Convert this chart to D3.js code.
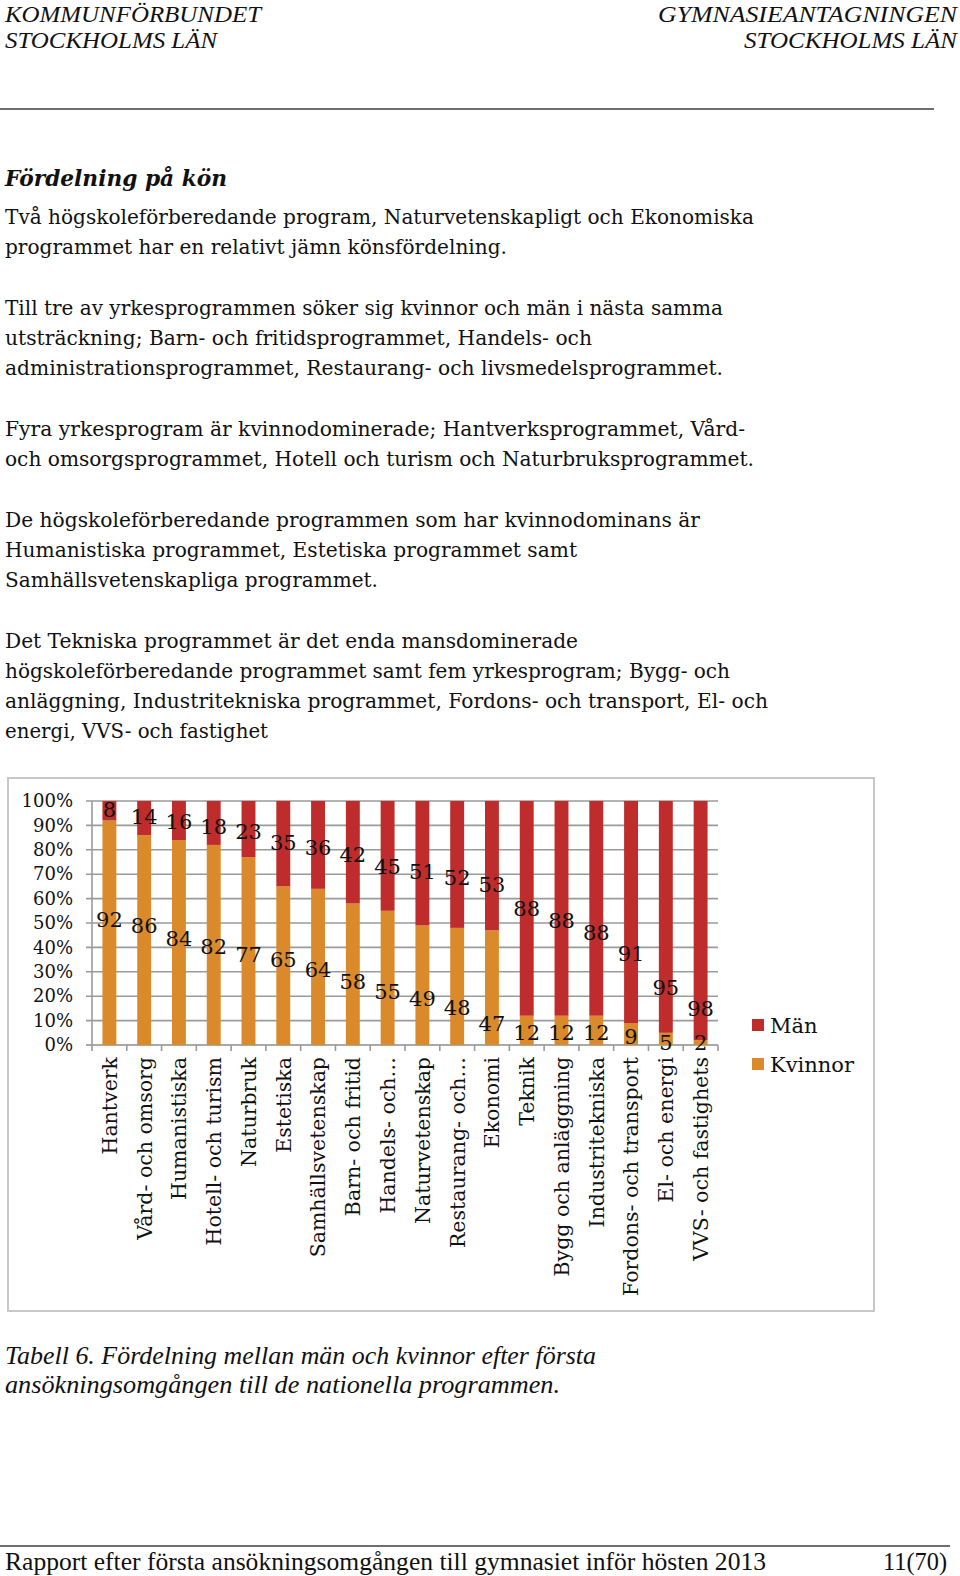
<!DOCTYPE html>
<html>
<head>
<meta charset="utf-8">
<script src="https://cdn.jsdelivr.net/npm/d3@7"></script>
<style>
  html, body { margin: 0; padding: 0; background: #fff; }
  svg { display: block; }
</style>
</head>
<body>
<svg id="page" width="960" height="1576"></svg>
<script>
// ---------------- DATA ----------------
const categories = ["Hantverk", "Vård- och omsorg", "Humanistiska", "Hotell- och turism", "Naturbruk",
  "Estetiska", "Samhällsvetenskap", "Barn- och fritid", "Handels- och…", "Naturvetenskap",
  "Restaurang- och…", "Ekonomi", "Teknik", "Bygg och anläggning", "Industritekniska",
  "Fordons- och transport", "El- och energi", "VVS- och fastighets"];
const kvinnor = [92, 86, 84, 82, 77, 65, 64, 58, 55, 49, 48, 47, 12, 12, 12, 9, 5, 2];
const man     = [8, 14, 16, 18, 23, 35, 36, 42, 45, 51, 52, 53, 88, 88, 88, 91, 95, 98];
// label anchor positions (in % of the axis), as placed in the original chart
const kvinnorLabelAt = [51.5, 49, 43.5, 40.5, 37, 35, 31, 26, 22, 19, 15.5, 9, 5, 5, 5, 3.5, 1, 1];
const manLabelAt     = [96.5, 93.5, 91.5, 89.5, 87.5, 83, 81, 78, 73, 71, 68.5, 66, 56, 51, 46, 37.5, 23.5, 15];
const yTicks = [0, 10, 20, 30, 40, 50, 60, 70, 80, 90, 100];
const seriesNames = ["Män", "Kvinnor"];

const headerLeft = ["KOMMUNFÖRBUNDET", "STOCKHOLMS LÄN"];
const headerRight = ["GYMNASIEANTAGNINGEN", "STOCKHOLMS LÄN"];
const title = "Fördelning på kön";
const bodyLines = [
  "Två högskoleförberedande program, Naturvetenskapligt och Ekonomiska",
  "programmet har en relativt jämn könsfördelning.",
  "Till tre av yrkesprogrammen söker sig kvinnor och män i nästa samma",
  "utsträckning; Barn- och fritidsprogrammet, Handels- och",
  "administrationsprogrammet, Restaurang- och livsmedelsprogrammet.",
  "Fyra yrkesprogram är kvinnodominerade; Hantverksprogrammet, Vård-",
  "och omsorgsprogrammet, Hotell och turism och Naturbruksprogrammet.",
  "De högskoleförberedande programmen som har kvinnodominans är",
  "Humanistiska programmet, Estetiska programmet samt",
  "Samhällsvetenskapliga programmet.",
  "Det Tekniska programmet är det enda mansdominerade",
  "högskoleförberedande programmet samt fem yrkesprogram; Bygg- och",
  "anläggning, Industritekniska programmet, Fordons- och transport, El- och",
  "energi, VVS- och fastighet"
];
const captionLines = ["Tabell 6. Fördelning mellan män och kvinnor efter första",
  "ansökningsomgången till de nationella programmen."];
const footerText = "Rapport efter första ansökningsomgången till gymnasiet inför hösten 2013";
const pageNo = "11(70)";

// ---------------- LAYOUT ----------------
const svg = d3.select("#page");
const SERIF = "'DejaVu Serif', serif";
const TIMES = "'Liberation Serif', serif";

function fit(sel, w) {
  sel.each(function () {
    const L = this.getComputedTextLength();
    if (Math.abs(L - w) > 1) {
      d3.select(this).attr("textLength", w).attr("lengthAdjust", "spacingAndGlyphs");
    }
  });
}

// header
const hl = svg.append("g").attr("font-family", TIMES).attr("font-style", "italic")
  .attr("font-size", 24).attr("fill", "#111");
const hlW = [256, 212], hrW = [299, 213], hY = [22, 48];
headerLeft.forEach((t, i) => fit(hl.append("text").attr("x", 5).attr("y", hY[i]).text(t), hlW[i]));
headerRight.forEach((t, i) => fit(hl.append("text").attr("x", 957).attr("y", hY[i])
  .attr("text-anchor", "end").text(t), hrW[i]));
svg.append("line").attr("x1", 0).attr("x2", 934).attr("y1", 109).attr("y2", 109)
  .attr("stroke", "#6e6e6e").attr("stroke-width", 2);

// title
fit(svg.append("text").attr("x", 5).attr("y", 186).attr("font-family", SERIF)
  .attr("font-weight", "bold").attr("font-style", "italic").attr("font-size", 22.5)
  .attr("fill", "#111").text(title), 222);

// body text
const bodyY = [224, 254, 315, 345, 375, 436, 466, 527, 557, 587, 648, 678, 708, 738];
const bodyW = [749, 502, 718, 587, 718, 740, 749, 695, 572, 373, 573, 725, 763, 263];
const body = svg.append("g").attr("font-family", SERIF).attr("font-size", 21).attr("fill", "#111");
bodyLines.forEach((t, i) => fit(body.append("text").attr("x", 5).attr("y", bodyY[i]).text(t), bodyW[i]));

// ---------------- CHART ----------------
// frame
svg.append("rect").attr("x", 8).attr("y", 778).attr("width", 866).attr("height", 533)
  .attr("fill", "#fff").attr("stroke", "#c8c8c8").attr("stroke-width", 2);

const plotL = 92, plotR = 718, plotT = 801, plotB = 1045;
const x = d3.scaleBand().domain(categories).range([plotL, plotR]).paddingInner(0.6).paddingOuter(0.3);
const xb = d3.scaleBand().domain(categories).range([plotL, plotR]);
const y = d3.scaleLinear().domain([0, 100]).range([plotB, plotT]);

const chart = svg.append("g");
// gridlines
chart.append("g").selectAll("line").data(yTicks).join("line")
  .attr("x1", plotL - 6).attr("x2", plotR).attr("y1", d => y(d)).attr("y2", d => y(d))
  .attr("stroke", d => d === 0 ? "#8c8c8c" : "#9a9a9a").attr("stroke-width", 1.6);
// y axis line
chart.append("line").attr("x1", plotL).attr("x2", plotL).attr("y1", plotT).attr("y2", plotB)
  .attr("stroke", "#9a9a9a").attr("stroke-width", 1.6);
// x ticks at band boundaries
const boundaries = categories.map(c => xb(c)).concat([plotR]);
chart.append("g").selectAll("line").data(boundaries).join("line")
  .attr("x1", d => d).attr("x2", d => d).attr("y1", plotB).attr("y2", plotB + 6)
  .attr("stroke", "#9a9a9a").attr("stroke-width", 1.6);

// y tick labels
const yAxis = d3.axisLeft(y).tickValues(yTicks).tickFormat(d => d + "%").tickSize(0).tickPadding(0);
const ya = chart.append("g").attr("transform", `translate(73,0)`).call(yAxis);
ya.select(".domain").remove();
ya.selectAll("text").attr("font-family", SERIF).attr("font-size", 18).attr("fill", "#111");

const cK = "#DB8A2B", cM = "#BE2C2C";
const rows = categories.map((c, i) => ({ c, k: kvinnor[i], m: man[i], kl: kvinnorLabelAt[i], ml: manLabelAt[i] }));

// bars
chart.append("g").selectAll("rect").data(rows).join("rect")
  .attr("x", d => x(d.c)).attr("width", x.bandwidth())
  .attr("y", d => y(d.k)).attr("height", d => y(0) - y(d.k)).attr("fill", cK);
chart.append("g").selectAll("rect").data(rows).join("rect")
  .attr("x", d => x(d.c)).attr("width", x.bandwidth())
  .attr("y", d => y(d.k + d.m)).attr("height", d => y(d.k) - y(d.k + d.m)).attr("fill", cM);

// data labels
const lab = chart.append("g").attr("font-family", SERIF).attr("font-size", 21).attr("fill", "#111")
  .attr("text-anchor", "middle");
lab.selectAll("text.k").data(rows).join("text").attr("class", "k")
  .attr("x", d => x(d.c) + x.bandwidth() / 2).attr("y", d => y(d.kl)).attr("dy", "0.36em").text(d => d.k);
lab.selectAll("text.m").data(rows).join("text").attr("class", "m")
  .attr("x", d => x(d.c) + x.bandwidth() / 2).attr("y", d => y(d.ml)).attr("dy", "0.36em").text(d => d.m);

// category labels (rotated)
chart.append("g").selectAll("text").data(categories).join("text")
  .attr("transform", d => `translate(${x(d) + x.bandwidth() / 2},1057) rotate(-90)`)
  .attr("text-anchor", "end").attr("dy", "0.36em")
  .attr("font-family", SERIF).attr("font-size", 20.5).attr("fill", "#111").text(d => d);

// legend
const leg = chart.append("g").selectAll("g").data(seriesNames).join("g")
  .attr("transform", (d, i) => `translate(752,${1019 + i * 39})`);
leg.append("rect").attr("width", 12).attr("height", 12).attr("fill", (d, i) => i === 0 ? cM : cK);
leg.append("text").attr("x", 18).attr("y", 6).attr("dy", "0.36em")
  .attr("font-family", SERIF).attr("font-size", 21).attr("fill", "#111").text(d => d);

// ---------------- CAPTION & FOOTER ----------------
const cap = svg.append("g").attr("font-family", TIMES).attr("font-style", "italic")
  .attr("font-size", 25).attr("fill", "#111");
const capY = [1364, 1393], capW = [591, 555];
captionLines.forEach((t, i) => fit(cap.append("text").attr("x", 5).attr("y", capY[i]).text(t), capW[i]));

svg.append("line").attr("x1", 0).attr("x2", 950).attr("y1", 1546).attr("y2", 1546)
  .attr("stroke", "#6e6e6e").attr("stroke-width", 2);
fit(svg.append("text").attr("x", 5).attr("y", 1570).attr("font-family", TIMES).attr("font-size", 25)
  .attr("fill", "#111").text(footerText), 761);
fit(svg.append("text").attr("x", 947).attr("y", 1570).attr("text-anchor", "end").attr("font-family", TIMES)
  .attr("font-size", 25).attr("fill", "#111").text(pageNo), 64);
</script>
</body>
</html>
